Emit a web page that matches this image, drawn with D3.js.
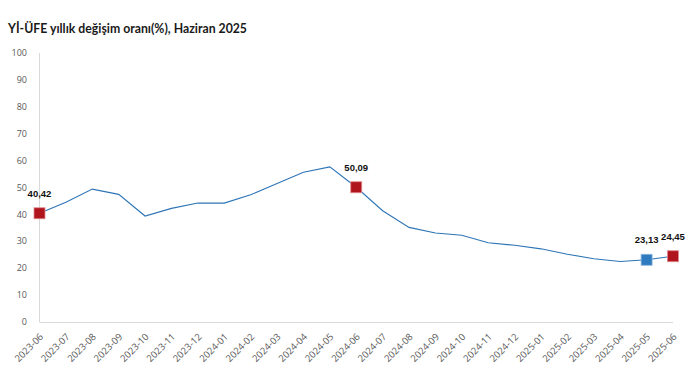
<!DOCTYPE html>
<html><head><meta charset="utf-8">
<script src="https://cdn.jsdelivr.net/npm/d3@7"></script>
<style>
body{margin:0;background:#fff;}
svg{display:block;}
</style></head>
<body>
<svg id="chart" width="691" height="379"></svg>
<script>
const months = ["2023-06","2023-07","2023-08","2023-09","2023-10","2023-11","2023-12","2024-01","2024-02","2024-03","2024-04","2024-05","2024-06","2024-07","2024-08","2024-09","2024-10","2024-11","2024-12","2025-01","2025-02","2025-03","2025-04","2025-05","2025-06"];
const values = [40.42,44.50,49.41,47.44,39.39,42.25,44.22,44.20,47.29,51.47,55.66,57.68,50.09,41.37,35.17,33.09,32.24,29.47,28.52,27.20,25.21,23.50,22.50,23.13,24.45];
const yTicks = [0,10,20,30,40,50,60,70,80,90,100];
const highlightRed = ["2023-06","2024-06","2025-06"];
const highlightBlue = ["2025-05"];
const title = "Yİ-ÜFE yıllık değişim oranı(%), Haziran 2025";

const svg = d3.select("#chart");
const x = d3.scalePoint().domain(months).range([39.5, 673]);
const y = d3.scaleLinear().domain([0,100]).range([322, 53]);

const t = svg.append("text").attr("x",8).attr("y",33)
  .attr("font-family","Lato, 'Open Sans', sans-serif").attr("font-weight","bold")
  .attr("font-size","13px").attr("fill","#1a1a1a").text(title);
// fit width to reference's title span
const tw = t.node().getComputedTextLength();
if (tw > 0) t.attr("textLength", 239).attr("lengthAdjust","spacingAndGlyphs");

// axes lines
svg.append("line").attr("x1",39.5).attr("x2",39.5).attr("y1",y(100)).attr("y2",y(0))
  .attr("stroke","#d9d9d9").attr("stroke-width",1);
svg.append("line").attr("x1",39.5).attr("x2",673).attr("y1",y(0)+0.5).attr("y2",y(0)+0.5)
  .attr("stroke","#d9d9d9").attr("stroke-width",1);

// y tick labels
svg.append("g").selectAll("text").data(yTicks).join("text")
  .attr("x",27).attr("y",d=>y(d)).attr("dy","0.35em").attr("text-anchor","end")
  .attr("font-family","'Open Sans', sans-serif").attr("font-size","9px").attr("fill","#595959")
  .text(d=>d);

// x tick labels
svg.append("g").selectAll("text").data(months).join("text")
  .attr("transform",d=>`translate(${x(d)+2},${y(0)+13}) rotate(-45)`)
  .attr("text-anchor","end").attr("dy","0.35em")
  .attr("font-family","'Open Sans', sans-serif").attr("font-size","9.5px").attr("fill","#595959")
  .text(d=>d);

const data = months.map((m,i)=>({m, v:values[i]}));
const line = d3.line().x(d=>x(d.m)).y(d=>y(d.v));
svg.append("path").datum(data).attr("d",line).attr("fill","none")
  .attr("stroke","#2e75b6").attr("stroke-width",1.1);

const marked = data.filter(d=>highlightRed.includes(d.m)||highlightBlue.includes(d.m));
svg.append("g").selectAll("rect").data(marked).join("rect")
  .attr("x",d=>x(d.m)-5.5).attr("y",d=>y(d.v)-5.5).attr("width",11).attr("height",11)
  .attr("fill",d=>highlightBlue.includes(d.m)?"#2e7bbf":"#b0141c")
  .attr("stroke",d=>highlightBlue.includes(d.m)?"#8fb8de":"#e08a8e").attr("stroke-width",0.8);

svg.append("g").selectAll("text").data(marked).join("text")
  .attr("x",d=>x(d.m)).attr("y",d=>y(d.v)-20).attr("dy","0.35em").attr("text-anchor","middle")
  .attr("font-family","'Liberation Sans', Arial, sans-serif").attr("font-weight","bold")
  .attr("font-size","9.5px").attr("fill","#111")
  .text(d=>d.v.toFixed(2).replace(".",","));
</script>
</body></html>
